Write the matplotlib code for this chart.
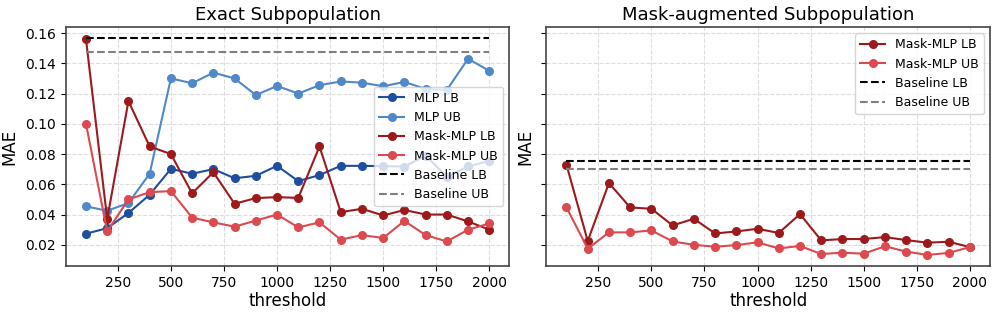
import numpy as np
import matplotlib
matplotlib.use("Agg")
import matplotlib.pyplot as plt

# datos
thresholds = [100, 200, 300, 400, 500, 600, 700, 800, 900, 1000,
              1100, 1200, 1300, 1400, 1500, 1600, 1700, 1800, 1900, 2000]

# panel izquierdo (exact subpopulation)
mlp_lb = [0.0273, 0.031, 0.041, 0.0531, 0.0702, 0.067, 0.070, 0.064, 0.0656, 0.0722,
          0.0621, 0.0661, 0.0722, 0.0722, 0.072, 0.0717, 0.079, 0.065, 0.0718, 0.0755]
mlp_ub = [0.0454, 0.0425, 0.0476, 0.067, 0.130, 0.1268, 0.1338, 0.130, 0.119, 0.125,
          0.120, 0.1255, 0.128, 0.1272, 0.1248, 0.1277, 0.123, 0.1224, 0.143, 0.135]
mask_lb = [0.156, 0.037, 0.115, 0.085, 0.080, 0.054, 0.068, 0.0471, 0.0509, 0.0515,
           0.051, 0.085, 0.0416, 0.0438, 0.0394, 0.043, 0.040, 0.040, 0.0354, 0.030]
mask_ub = [0.100, 0.0288, 0.050, 0.0548, 0.0555, 0.038, 0.0348, 0.032, 0.036, 0.040,
           0.0315, 0.0348, 0.0234, 0.0264, 0.0245, 0.0358, 0.0264, 0.0222, 0.030, 0.0341]
base_lb_exact = 0.1565
base_ub_exact = 0.1475

# panel derecho (mask-augmented subpopulation)
mask_lb_aug = [0.0729, 0.0225, 0.0608, 0.0447, 0.0438, 0.0328, 0.0372, 0.0275, 0.0288, 0.0306,
               0.0278, 0.0403, 0.0229, 0.0238, 0.0238, 0.0251, 0.0231, 0.0214, 0.022, 0.0185]
mask_ub_aug = [0.0447, 0.0174, 0.0282, 0.0282, 0.0295, 0.0222, 0.020, 0.0187, 0.0198, 0.0216,
               0.0176, 0.0192, 0.0139, 0.0148, 0.0141, 0.019, 0.0155, 0.0133, 0.0146, 0.0185]
base_lb_aug = 0.0757
base_ub_aug = 0.0702

yticks = [0.02, 0.04, 0.06, 0.08, 0.10, 0.12, 0.14, 0.16]
xticks = [250, 500, 750, 1000, 1250, 1500, 1750, 2000]

c_mlp_lb = '#1f4e9e'
c_mlp_ub = '#5088c8'
c_mask_lb = '#9c1a1c'
c_mask_ub = '#dc4a4f'

fig, (ax1, ax2) = plt.subplots(1, 2, figsize=(9.97, 3.14), dpi=100, sharey=True)
fig.subplots_adjust(left=0.066, right=0.993, bottom=0.153, top=0.914, wspace=0.083)

kw = dict(marker='o', markersize=5.5, linewidth=1.5)
ax1.plot(thresholds, mlp_lb, color=c_mlp_lb, label='MLP LB', **kw)
ax1.plot(thresholds, mlp_ub, color=c_mlp_ub, label='MLP UB', **kw)
ax1.plot(thresholds, mask_lb, color=c_mask_lb, label='Mask-MLP LB', **kw)
ax1.plot(thresholds, mask_ub, color=c_mask_ub, label='Mask-MLP UB', **kw)
ax1.plot([thresholds[0], thresholds[-1]], [base_lb_exact] * 2, '--', color='black', linewidth=1.5, label='Baseline LB')
ax1.plot([thresholds[0], thresholds[-1]], [base_ub_exact] * 2, '--', color='gray', linewidth=1.5, label='Baseline UB')

ax2.plot(thresholds, mask_lb_aug, color=c_mask_lb, label='Mask-MLP LB', **kw)
ax2.plot(thresholds, mask_ub_aug, color=c_mask_ub, label='Mask-MLP UB', **kw)
ax2.plot([thresholds[0], thresholds[-1]], [base_lb_aug] * 2, '--', color='black', linewidth=1.5, label='Baseline LB')
ax2.plot([thresholds[0], thresholds[-1]], [base_ub_aug] * 2, '--', color='gray', linewidth=1.5, label='Baseline UB')

for ax, title in [(ax1, 'Exact Subpopulation'), (ax2, 'Mask-augmented Subpopulation')]:
    ax.set_title(title, fontsize=13, pad=5)
    ax.set_xlabel('threshold', fontsize=12, labelpad=2)
    ax.set_ylabel('MAE', fontsize=12, labelpad=5)
    ax.grid(True, linestyle='--', color='#dddddd', linewidth=0.8)
    ax.set_axisbelow(True)
    ax.set_xticks(xticks)
    ax.tick_params(labelsize=10)
    for s in ax.spines.values():
        s.set_color('#444444')
        s.set_linewidth(1.2)

ax1.set_ylim(0.006, 0.164)
ax1.set_yticks(yticks)
ax1.set_yticklabels(['%.2f' % v for v in yticks])

ax1.legend(loc='center right', fontsize=9, framealpha=0.8)
ax2.legend(loc='upper right', fontsize=9, framealpha=0.8)

fig.savefig('out.png', dpi=100)
